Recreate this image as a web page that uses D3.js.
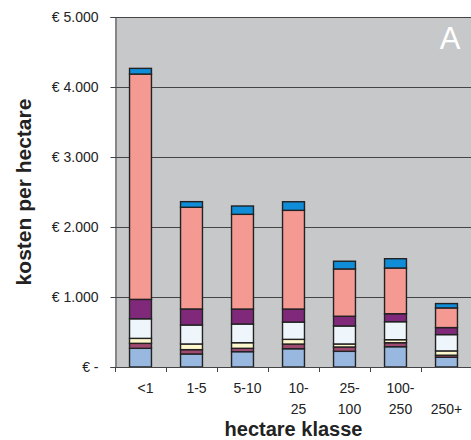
<!DOCTYPE html>
<html>
<head>
  <meta charset="utf-8">
  <script src="https://d3js.org/d3.v7.min.js"></script>
  <style>
    body { margin: 0; background: #fff; }
    text { font-family: "Liberation Sans", Arial, sans-serif; }
  </style>
</head>
<body>
  <svg id="chart" width="471" height="440"></svg>
  <script>
    // hectare classes (label lines) and the stacked cost parts, bottom to top
    const categories = ["<1", "1-5", "5-10", "10-25", "25-100", "100-250", "250+"];
    const categoryLines = [["<1"], ["1-5"], ["5-10"], ["10-", "25"], ["25-", "100"], ["100-", "250"], ["", "250+"]];
    const lightBlue = [267, 186, 219, 261, 224, 290, 139];
    const mauve     = [71, 62, 48, 67, 62, 57, 29];
    const yellow    = [71, 81, 80, 67, 43, 43, 62];
    const paleCyan  = [280, 271, 267, 247, 257, 257, 233];
    const purple    = [277, 229, 214, 186, 139, 114, 100];
    const salmon    = [3219, 1453, 1353, 1410, 676, 653, 281];
    const blue      = [81, 80, 119, 123, 110, 133, 62];
    const yTicks = [0, 1000, 2000, 3000, 4000, 5000];

    const series = [lightBlue, mauve, yellow, paleCyan, purple, salmon, blue];
    const colors = ["#98b8e0", "#a04a72", "#fff8cc", "#eef6fc", "#80297a", "#f59a92", "#0f8dd8"];
    const keys = series.map((s, i) => "s" + i);

    const rows = categories.map((c, j) => {
      const r = { cat: c };
      series.forEach((s, i) => r[keys[i]] = s[j]);
      return r;
    });
    const stacked = d3.stack().keys(keys)(rows);

    const svg = d3.select("#chart");
    const plotLeft = 115, plotRight = 472, plotTop = 17, plotBottom = 367;

    const x = d3.scaleBand().domain(categories).range([plotLeft, plotRight])
                .paddingInner(0.57).paddingOuter(0.285);
    const y = d3.scaleLinear().domain([0, 5000]).range([plotBottom, plotTop]);

    // plot background
    svg.append("rect").attr("x", plotLeft).attr("y", plotTop)
       .attr("width", plotRight - plotLeft).attr("height", plotBottom - plotTop)
       .attr("fill", "#c7c8ca");

    // gridlines
    svg.append("g").selectAll("line").data(yTicks.slice(1)).join("line")
       .attr("x1", plotLeft).attr("x2", plotRight)
       .attr("y1", d => Math.round(y(d)) + 0.5).attr("y2", d => Math.round(y(d)) + 0.5)
       .attr("stroke", "#444").attr("stroke-width", 1);

    // stacked bars
    svg.append("g").selectAll("g").data(stacked).join("g")
       .attr("fill", (d, i) => colors[i])
       .selectAll("rect").data(d => d).join("rect")
       .attr("x", d => x(d.data.cat))
       .attr("width", x.bandwidth())
       .attr("y", d => y(d[1]))
       .attr("height", d => y(d[0]) - y(d[1]))
       .attr("stroke", "#222").attr("stroke-width", 1.4);

    // y axis
    const yAxis = d3.axisLeft(y).tickValues(yTicks).tickSize(5).tickPadding(12)
                    .tickFormat(d => d === 0 ? "€ -" : "€ " + d3.format(",")(d).replace(",", "."));
    const ya = svg.append("g").attr("transform", "translate(" + (plotLeft + 0.5) + ",0)").call(yAxis);
    ya.select(".domain").attr("stroke", "#444");
    ya.selectAll(".tick line").attr("stroke", "#444");
    ya.selectAll("text").attr("font-size", 14).attr("fill", "#222")
      .attr("font-family", "Liberation Sans, Arial, sans-serif");

    // x axis: ticks at band boundaries
    const bounds = categories.map(c => x(c) - x.step() * x.paddingInner() / 2).concat([plotRight]);
    svg.append("line").attr("x1", plotLeft - 4).attr("x2", plotRight)
       .attr("y1", plotBottom + 0.5).attr("y2", plotBottom + 0.5).attr("stroke", "#444");
    svg.append("g").selectAll("line").data(bounds).join("line")
       .attr("x1", d => Math.round(d) + 0.5).attr("x2", d => Math.round(d) + 0.5)
       .attr("y1", plotBottom).attr("y2", plotBottom + 5).attr("stroke", "#444");

    const xl = svg.append("g").selectAll("text").data(categoryLines).join("text")
       .attr("text-anchor", "middle").attr("font-size", 14).attr("fill", "#222")
       .attr("x", (d, i) => x(categories[i]) + x.bandwidth() / 2 + (d[0] === "" ? 0 : 5));
    xl.selectAll("tspan").data(d => d).join("tspan")
       .attr("x", function() { return d3.select(this.parentNode).attr("x"); })
       .attr("y", (d, i) => 393 + i * 21)
       .text(d => d);

    // axis titles
    svg.append("text").attr("x", (plotLeft + plotRight) / 2).attr("y", 436)
       .attr("text-anchor", "middle").attr("font-size", 20).attr("font-weight", "bold")
       .attr("fill", "#222").text("hectare klasse");
    svg.append("text").attr("transform", "translate(31," + (plotTop + plotBottom) / 2 + ") rotate(-90)")
       .attr("text-anchor", "middle").attr("font-size", 21).attr("font-weight", "bold")
       .attr("fill", "#222").text("kosten per hectare");

    // panel letter
    svg.append("text").attr("x", 450).attr("y", 49).attr("text-anchor", "middle")
       .attr("font-size", 31).attr("fill", "#fff").text("A");
  </script>
</body>
</html>
